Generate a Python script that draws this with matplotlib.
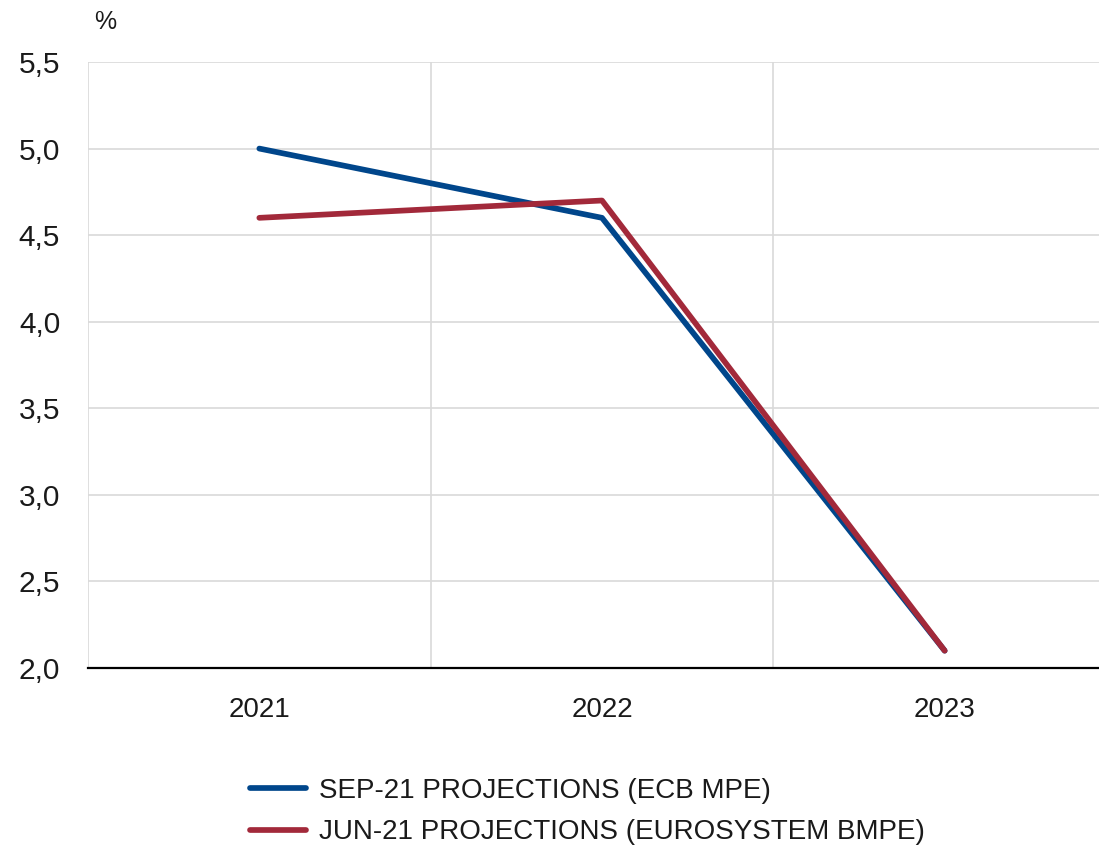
from matplotlib import pyplot as plt
import numpy as np

years = ['2021', '2022', '2023']
sep21 = [5.0, 4.6, 2.1]
jun21 = [4.6, 4.7, 2.1]
labels = ['SEP-21 PROJECTIONS (ECB MPE)', 'JUN-21 PROJECTIONS (EUROSYSTEM BMPE)']
yticks = [2.0, 2.5, 3.0, 3.5, 4.0, 4.5, 5.0, 5.5]

plt.rcParams['font.family'] = ['Liberation Sans', 'DejaVu Sans']

fig = plt.figure(figsize=(10.99, 8.47), dpi=100)
ax = fig.add_axes([88 / 1099, 179 / 847, 1028 / 1099, 606 / 847])

x = np.arange(len(years))
ax.plot(x, sep21, color='#00468b', lw=4.1, label=labels[0], solid_capstyle='round')
ax.plot(x, jun21, color='#a2293a', lw=4.1, label=labels[1], solid_capstyle='round')

ax.set_xlim(-0.5, 2.5)
ax.set_ylim(2.0, 5.5)
ax.set_xticks(x)
ax.set_xticklabels(years)
ax.set_xticks([-0.5, 0.5, 1.5, 2.5], minor=True)
ax.set_yticks(yticks)
ax.set_yticklabels([('%.1f' % v).replace('.', ',') for v in yticks])

ax.grid(True, which='minor', axis='x', color='#d9d9d9', lw=1.2)
ax.grid(True, which='major', axis='y', color='#d9d9d9', lw=1.2)
ax.set_axisbelow(True)
ax.tick_params(which='both', length=0)
ax.tick_params(axis='y', labelsize=21.5, pad=20, colors='#1a1a1a')
ax.tick_params(axis='x', labelsize=20, pad=21, colors='#1a1a1a')

for s in ['top', 'right', 'left']:
    ax.spines[s].set_visible(False)
ax.spines['bottom'].set_color('black')
ax.spines['bottom'].set_linewidth(1.6)

fig.text(105 / 1099, 1 - 22 / 847, '%', fontsize=18, ha='center', va='center', color='#1a1a1a')

leg = fig.legend(loc='upper left', bbox_to_anchor=(250 / 1099, 1 - 778 / 847), frameon=False,
                 fontsize=20, handlelength=2.0, handletextpad=0.47, labelspacing=0.55,
                 borderaxespad=0, borderpad=0)
for t in leg.get_texts():
    t.set_color('#1a1a1a')

fig.savefig('out.png', dpi=100)
